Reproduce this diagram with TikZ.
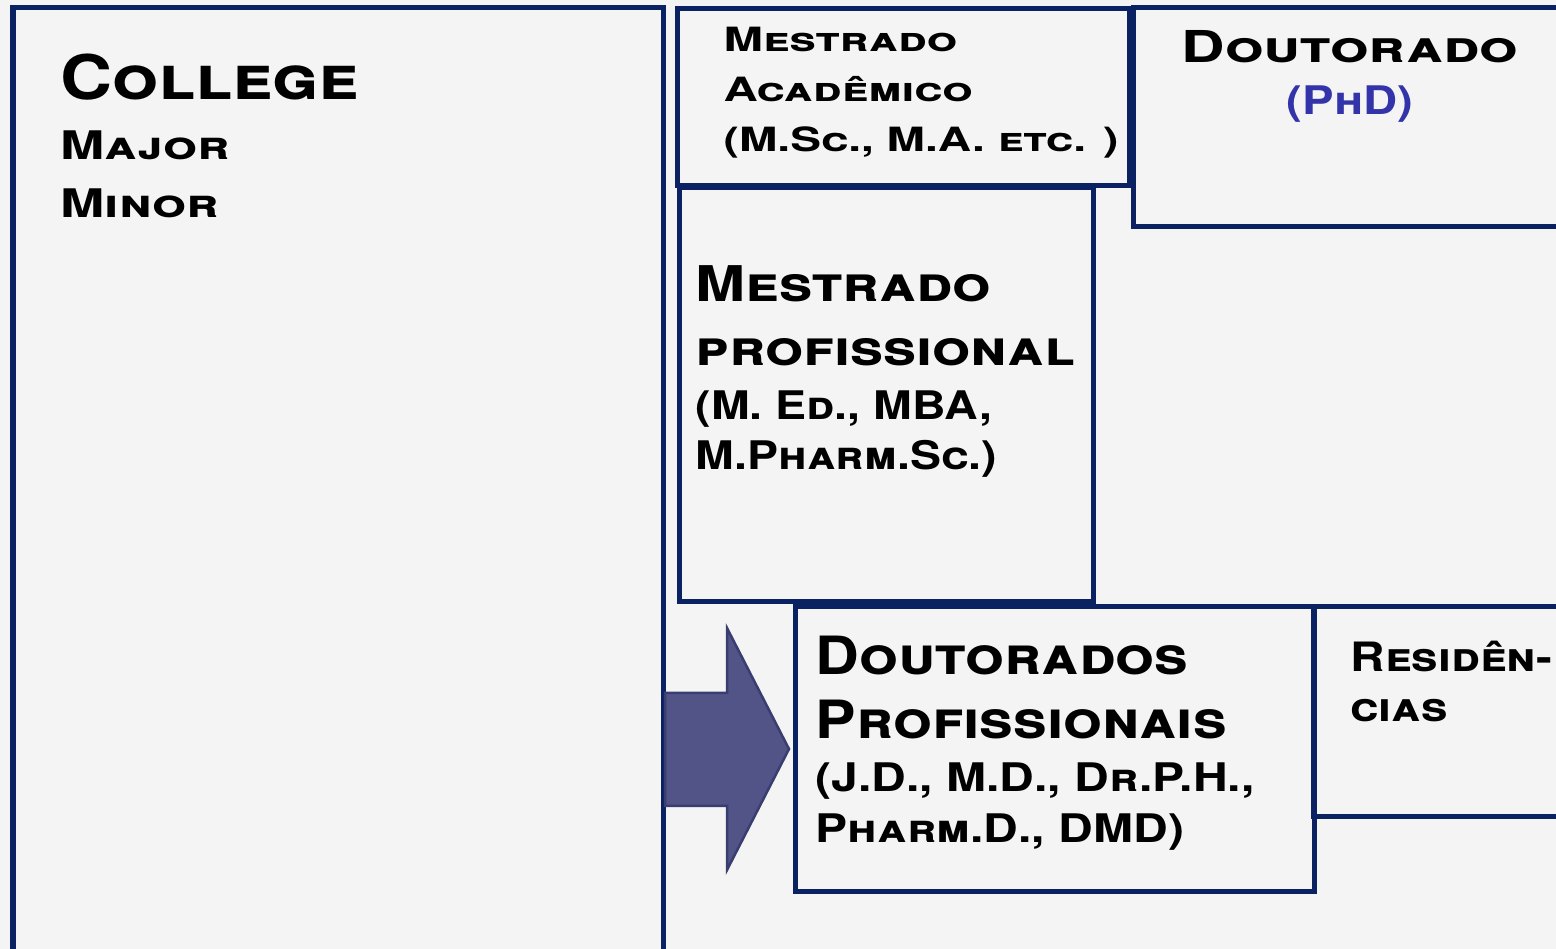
\documentclass[tikz,border=0pt]{standalone}
\usepackage{fontspec}
\setmainfont{TeX Gyre Heros}
\usepackage{xcolor}
\definecolor{navy}{HTML}{0B2262}
\definecolor{arrowfill}{HTML}{525487}
\definecolor{arrowline}{HTML}{3A3D70}
\definecolor{phdblue}{HTML}{3333AA}
\definecolor{paper}{HTML}{F4F4F4}
% bold small caps, size and horizontal stretch
\newcommand{\cpfont}[2]{\bfseries\scshape\fontsize{#1}{#1}\selectfont\addfontfeature{FakeStretch=#2}}
\tikzset{box/.style={draw=navy, line width=0.5mm},
         lbl/.style={anchor=base west, inner sep=0pt}}

\begin{document}
\begin{tikzpicture}[x=0.01cm,y=-0.01cm]
    \fill[paper] (0,0) rectangle (1556,949);
    \useasboundingbox (0,0) rectangle (1556,949);

    % boxes
    \draw[box] (13,8) rectangle (663,960);
    \draw[box] (677,9) rectangle (1129,186);
    \draw[box] (1133,8) rectangle (1570,227);
    \draw[box] (679,188) rectangle (1093,602);
    \draw[box] (1313,607) rectangle (1570,817);
    \draw[box] (795,607) rectangle (1314,892);

    % arrow
    \filldraw[fill=arrowfill, draw=arrowline, line width=0.25mm]
        (665,693) -- (727,693) -- (727,628) -- (789,749) -- (727,870) -- (727,806) -- (665,806) -- cycle;

    % college
    \node[lbl, font=\cpfont{17.5}{1.17}] (college) at (60,100) {College};
    \node[lbl, font=\cpfont{11.2}{1.35}] (major) at (60,160) {Major};
    \node[lbl, font=\cpfont{11.2}{1.35}] (minor) at (60,218) {Minor};

    % mestrado academico
    \node[lbl, font=\cpfont{9.5}{1.42}] (ma1) at (723,52) {Mestrado};
    \node[lbl, font=\cpfont{9.5}{1.42}] (ma2) at (723,102) {Acadêmico};
    \node[lbl, font=\cpfont{9.5}{1.38}] (ma3) at (723,152) {(M.Sc., M.A. etc. )};

    % doutorado
    \node[anchor=base, inner sep=0pt, font=\cpfont{12.5}{1.37}] (dout) at (1350,63) {Doutorado};
    \node[anchor=base, inner sep=0pt, text=phdblue, font=\cpfont{11.2}{1.2}] (phd) at (1350,115) {(PhD)};

    % mestrado profissional
    \node[lbl, font=\cpfont{14}{1.22}] (mp1) at (695,302) {Mestrado};
    \node[lbl, font=\cpfont{14}{1.21}] (mp2) at (695,366) {profissional};
    \node[lbl, font=\cpfont{11.2}{1.18}] (mp3) at (695,420) {(M. Ed., MBA,};
    \node[lbl, font=\cpfont{11.2}{1.18}] (mp4) at (695,470) {M.Pharm.Sc.)};

    % doutorados profissionais
    \node[lbl, font=\cpfont{15}{1.15}] (dp1) at (815,675) {Doutorados};
    \node[lbl, font=\cpfont{15}{1.15}] (dp2) at (815,739) {Profissionais};
    \node[lbl, font=\cpfont{11.2}{1.22}] (dp3) at (815,792) {(J.D., M.D., Dr.P.H.,};
    \node[lbl, font=\cpfont{11.2}{1.22}] (dp4) at (815,843) {Pharm.D., DMD)};

    % residencias
    \node[lbl, font=\cpfont{11.5}{1.18}] (res1) at (1350,672) {Residên-};
    \node[lbl, font=\cpfont{11.5}{1.18}] (res2) at (1350,722) {cias};
\end{tikzpicture}
\end{document}
